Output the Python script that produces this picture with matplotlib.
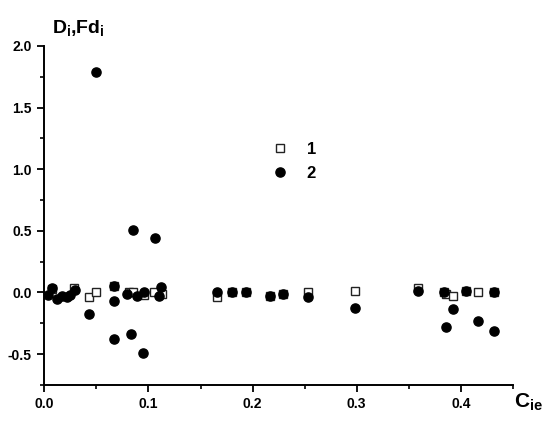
import matplotlib
matplotlib.use("Agg")
import matplotlib.pyplot as plt
from matplotlib.ticker import MultipleLocator, FormatStrFormatter

plt.rcParams['font.family'] = ['Liberation Sans', 'DejaVu Sans']
plt.rcParams['mathtext.fontset'] = 'custom'
plt.rcParams['mathtext.rm'] = 'Liberation Sans:bold'
plt.rcParams['mathtext.it'] = 'Liberation Sans:bold'
plt.rcParams['mathtext.bf'] = 'Liberation Sans:bold'

# Series 1 (open squares): D_i
x1 = [0.007, 0.029, 0.043, 0.050, 0.067, 0.081, 0.085, 0.096, 0.105, 0.113,
      0.166, 0.180, 0.194, 0.217, 0.229, 0.253, 0.298, 0.359, 0.384, 0.386,
      0.392, 0.405, 0.416, 0.432]
y1 = [0.03, 0.04, -0.04, 0.0, 0.05, 0.0, 0.005, -0.02, 0.0, -0.01,
      -0.04, 0.0, 0.005, -0.03, -0.01, 0.005, 0.013, 0.04, 0.005, -0.016,
      -0.03, 0.01, 0.005, 0.005]

# Series 2 (filled circles): Fd_i
x2 = [0.004, 0.007, 0.012, 0.017, 0.0215, 0.025, 0.0295, 0.043, 0.0497, 0.067,
      0.067, 0.067, 0.079, 0.083, 0.085, 0.089, 0.095, 0.096, 0.106, 0.110,
      0.112, 0.166, 0.180, 0.194, 0.217, 0.229, 0.253, 0.298, 0.359, 0.384,
      0.386, 0.392, 0.405, 0.416, 0.432, 0.432]
y2 = [-0.02, 0.037, -0.055, -0.03, -0.04, -0.02, 0.02, -0.176, 1.786, 0.05,
      -0.07, -0.38, -0.014, -0.34, 0.505, -0.025, -0.49, 0.0, 0.44, -0.03,
      0.045, 0.005, 0.0, 0.005, -0.03, -0.01, -0.04, -0.125, 0.01, 0.005,
      -0.276, -0.13, 0.01, -0.23, 0.005, -0.31]

fig = plt.figure(figsize=(5.5, 4.3), dpi=100)
ax = fig.add_axes([0.0805, 0.1047, 0.8522, 0.7886])

ax.plot(x1, y1, linestyle='none', marker='s', markersize=5.8,
        markerfacecolor='white', markeredgecolor='#222222', markeredgewidth=1.0,
        label='1', zorder=2)
ax.plot(x2, y2, linestyle='none', marker='o', markersize=6.6,
        markerfacecolor='black', markeredgecolor='black',
        label='2', zorder=3)

ax.set_xlim(0, 0.45)
ax.set_ylim(-0.75, 2.0)

for s in ['top', 'right']:
    ax.spines[s].set_visible(False)
for s in ['left', 'bottom']:
    ax.spines[s].set_linewidth(1.4)

ax.xaxis.set_major_locator(MultipleLocator(0.1))
ax.xaxis.set_minor_locator(MultipleLocator(0.05))
ax.yaxis.set_major_locator(MultipleLocator(0.5))
ax.yaxis.set_minor_locator(MultipleLocator(0.25))
ax.xaxis.set_major_formatter(FormatStrFormatter('%.1f'))
ax.yaxis.set_major_formatter(FormatStrFormatter('%.1f'))

ax.tick_params(which='major', direction='out', length=5, width=1.3,
               labelsize=10, pad=4)
ax.tick_params(which='minor', direction='out', length=3, width=1.2)
for lab in ax.get_xticklabels() + ax.get_yticklabels():
    lab.set_fontweight('bold')

fig.text(0.0945, 0.923, r'$\mathrm{D_i{,}Fd_i}$', fontsize=14, ha='left', va='baseline')
fig.text(0.934, 0.051, r'$\mathrm{C_{ie}}$', fontsize=15, ha='left', va='baseline')

leg = ax.legend(loc='upper left', bbox_to_anchor=(0.453, 0.761), frameon=False,
                handletextpad=1.1, labelspacing=0.55, handlelength=1.0,
                prop={'weight': 'bold', 'size': 12})

fig.savefig('out.png', dpi=100)
